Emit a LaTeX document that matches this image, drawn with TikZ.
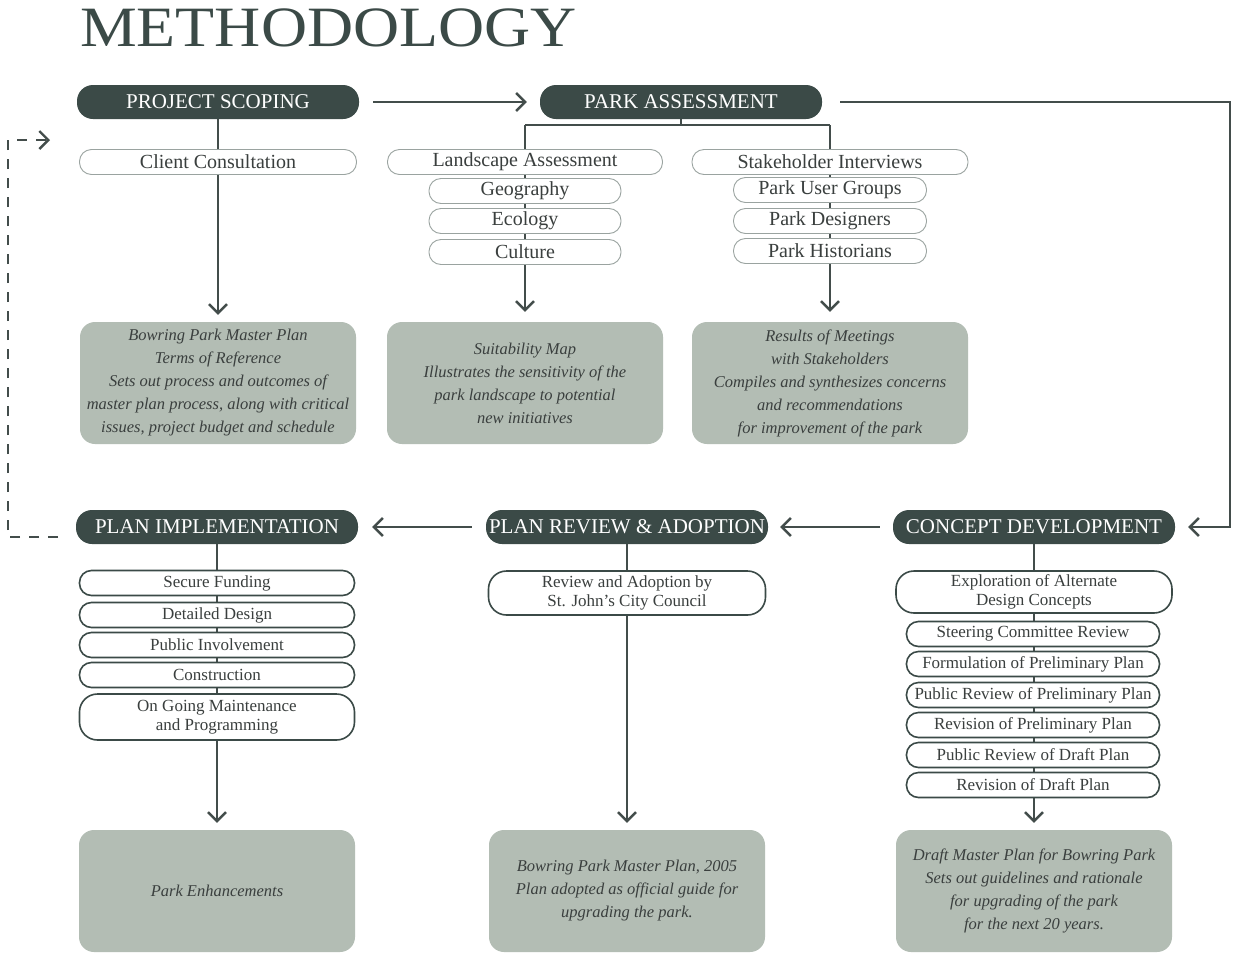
\documentclass[tikz,border=0pt]{standalone}
\usepackage{fontspec}
\setmainfont{Liberation Serif}
\usepackage{tikz}
\usetikzlibrary{arrows.meta}
\definecolor{ink}{HTML}{3B4A47}
\definecolor{sage}{HTML}{B3BDB4}
\definecolor{haze}{HTML}{9AA3A0}
\definecolor{wire}{HTML}{434D4B}
\definecolor{prose}{HTML}{3A3F3E}
\tikzset{
  stage/.style={fill=ink, text=white, rounded corners=16pt, minimum width=282pt, minimum height=34pt, inner sep=0pt, font=\fontsize{21}{24}\selectfont},
  litepill/.style={draw=haze, line width=0.9pt, fill=white, text=prose, rounded corners=12pt, minimum height=25pt, inner sep=0pt, font=\fontsize{20}{22}\selectfont},
  darkpill/.style={draw=ink, line width=1.6pt, fill=white, text=prose, rounded corners=12pt, minimum height=25pt, inner sep=0pt, align=center, font=\fontsize{17}{19.5}\selectfont},
  result/.style={fill=sage, text=prose, rounded corners=15pt, minimum width=276pt, minimum height=122pt, inner sep=0pt, align=center, font=\fontsize{16.5}{23}\selectfont\itshape},
  link/.style={draw=wire, line width=1.5pt, -{Straight Barb[length=9pt,width=18pt,line width=2.4pt]}},
  rail/.style={draw=wire, line width=1.3pt}
}

\begin{document}
\begin{tikzpicture}[x=1pt,y=-1pt]
\fill[white] (0,0) rectangle (1234,956);
\useasboundingbox (0,0) rectangle (1234,956);

\node[anchor=base west, text=ink, inner sep=0pt, xscale=1.12, transform shape, font=\fontsize{57}{57}\selectfont] (title) at (80,46) {METHODOLOGY};

% stages
\node[stage] (scope) at (218,102) {PROJECT SCOPING};
\node[stage] (assess) at (681,102) {PARK ASSESSMENT};
\node[stage] (implement) at (217,527) {PLAN IMPLEMENTATION};
\node[stage] (review) at (627,527) {PLAN REVIEW \& ADOPTION};
\node[stage] (concept) at (1034,527) {CONCEPT DEVELOPMENT};

% outcomes
\node[result] (terms) at (218,383) {Bowring Park Master Plan\\Terms of Reference\\Sets out process and outcomes of\\master plan process, along with critical\\issues, project budget and schedule};
\node[result] (suit) at (525,383) {Suitability Map\\Illustrates the sensitivity of the\\park landscape to potential\\new initiatives};
\node[result] (meet) at (830,383) {Results of Meetings\\with Stakeholders\\Compiles and synthesizes concerns\\and recommendations\\for improvement of the park};
\node[result] (enhance) at (217,891) {Park Enhancements};
\node[result] (adopted) at (627,891) {Bowring Park Master Plan, 2005\\Plan adopted as official guide for\\upgrading the park.};
\node[result] (draft) at (1034,891) {Draft Master Plan for Bowring Park\\Sets out guidelines and rationale\\for upgrading of the park\\for the next 20 years.};

% connectors
\coordinate (fork) at (681,125);
\coordinate (corner) at (1230,102);
\coordinate (loopS) at (58,537);
\coordinate (loopB) at (8,537);
\coordinate (loopT) at (8,140);
\coordinate (loopE) at (50,140);

\draw[link, shorten <=14pt, shorten >=13pt] (scope) -- (assess);
\draw[link, shorten <=18pt, shorten >=13pt] (assess) -- (corner) |- (concept);
\draw[link, shorten <=13pt, shorten >=12pt] (concept) -- (review);
\draw[link, shorten <=14pt, shorten >=14pt] (review) -- (implement);
\draw[link, dash pattern=on 10pt off 9pt] (loopS) -- (loopB) -- (loopT) -- (loopE);

\draw[link, shorten >=7pt] (scope) -- (terms);
\draw[rail] (assess) -- (fork);
\draw[rail] (suit.north |- fork) -- (meet.north |- fork);
\draw[link, shorten >=10pt] (suit.north |- fork) -- (suit);
\draw[link, shorten >=10pt] (meet.north |- fork) -- (meet);
\draw[link, shorten >=7pt] (implement) -- (enhance);
\draw[link, shorten >=7pt] (review) -- (adopted);
\draw[link, shorten >=7pt] (concept) -- (draft);

% tasks, top row
\node[litepill, minimum width=277pt] (client) at (218,162) {Client Consultation};
\node[litepill, minimum width=275pt] (land) at (525,162) {Landscape Assessment};
\node[litepill, minimum width=276pt] (stake) at (830,162) {Stakeholder Interviews};
\foreach \i/\y/\name in {1/191/Geography,2/221/Ecology,3/252/Culture}{
  \node[litepill, minimum width=192pt] (land\i) at (525,\y) {\name};
}
\foreach \i/\y/\name in {1/190/Park User Groups,2/221/Park Designers,3/251/Park Historians}{
  \node[litepill, minimum width=193pt] (stake\i) at (830,\y) {\name};
}

% tasks, bottom row
\foreach \i/\y/\name in {1/583/Secure Funding,2/615/Detailed Design,3/645/Public Involvement,4/675/Construction}{
  \node[darkpill, minimum width=275pt] (impl\i) at (217,\y) {\name};
}
\node[darkpill, minimum width=275pt, minimum height=46pt, rounded corners=18pt] (impl5) at (217,717) {On Going Maintenance\\and Programming};
\node[darkpill, minimum width=277pt, minimum height=44pt, rounded corners=18pt] (council) at (627,593) {Review and Adoption by\\St. John's City Council};
\node[darkpill, minimum width=276pt, minimum height=42pt, rounded corners=18pt] (explore) at (1034,592) {Exploration of Alternate\\Design Concepts};
\foreach \i/\y/\name in {1/634/Steering Committee Review,2/664/Formulation of Preliminary Plan,3/695/Public Review of Preliminary Plan,4/725/Revision of Preliminary Plan,5/755/Public Review of Draft Plan,6/785/Revision of Draft Plan}{
  \node[darkpill, minimum width=253pt] (cd\i) at (1033,\y) {\name};
}
\end{tikzpicture}
\end{document}
